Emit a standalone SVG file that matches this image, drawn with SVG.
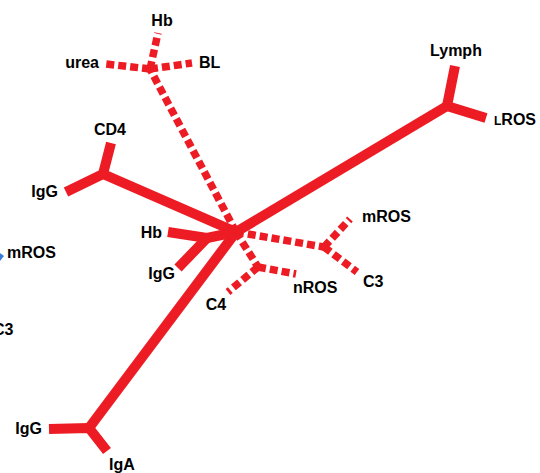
<svg xmlns="http://www.w3.org/2000/svg" width="540" height="473" viewBox="0 0 540 473">
<style>
.s{stroke:#ED1C24;stroke-width:10;fill:none;stroke-linecap:butt;stroke-linejoin:round}
.d{stroke:#ED1C24;stroke-width:7.5;fill:none;stroke-dasharray:8 4}
text{font-family:"Liberation Sans",Arial,sans-serif;font-weight:bold;font-size:16px;fill:#000}
.sm{font-size:12px}
</style>
<rect width="540" height="473" fill="#fff"/>
<g id="connectors">
<polyline class="s" points="236,232 447,106"/>
<polyline class="s" points="455,66 447,106 486,118"/>
<polyline class="s" points="236,232 103,174"/>
<polyline class="s" points="111,143 103,174 66,192"/>
<polyline class="s" points="236,232 89,428"/>
<polyline class="s" points="49,429 89,428 107,451"/>
<polyline class="s" points="236,232 207,238"/>
<polyline class="s" points="168,232 207,238 178,268"/>
<line class="d" x1="236" y1="232" x2="150" y2="69"/>
<line class="d" x1="150" y1="69" x2="158" y2="33"/>
<line class="d" x1="150" y1="69" x2="106" y2="64"/>
<line class="d" x1="150" y1="69" x2="192" y2="63"/>
<line class="d" x1="236" y1="232" x2="324" y2="247"/>
<line class="d" x1="324" y1="247" x2="350" y2="219"/>
<line class="d" x1="324" y1="247" x2="357" y2="272"/>
<line class="d" x1="236" y1="232" x2="258" y2="267"/>
<line class="d" x1="258" y1="267" x2="296" y2="274"/>
<line class="d" x1="258" y1="267" x2="228" y2="292"/>
<polygon points="0,253 4,256 0,261" fill="#3A7BD5"/>
</g>
<g id="n-hb-top"><text x="162" y="26" text-anchor="middle">Hb</text></g>
<g id="n-urea"><text x="99" y="68" text-anchor="end">urea</text></g>
<g id="n-bl"><text x="199" y="68">BL</text></g>
<g id="n-cd4"><text x="110" y="135" text-anchor="middle">CD4</text></g>
<g id="n-igg-left"><text x="58" y="197" text-anchor="end">IgG</text></g>
<g id="n-lymph"><text x="456" y="56" text-anchor="middle">Lymph</text></g>
<g id="n-lros"><text x="494" y="125"><tspan class="sm">L</tspan>ROS</text></g>
<g id="n-mros"><text x="362" y="222">mROS</text></g>
<g id="n-c3"><text x="363" y="287">C3</text></g>
<g id="n-nros"><text x="293" y="293">nROS</text></g>
<g id="n-hb"><text x="162" y="238" text-anchor="end">Hb</text></g>
<g id="n-igg-mid"><text x="175" y="279" text-anchor="end">IgG</text></g>
<g id="n-c4"><text x="216" y="310" text-anchor="middle">C4</text></g>
<g id="n-igg-bottom"><text x="42" y="434" text-anchor="end">IgG</text></g>
<g id="n-iga"><text x="122" y="470" text-anchor="middle">IgA</text></g>
<g id="n-mros-left"><text x="7" y="258">mROS</text></g>
<g id="n-c3-left"><text x="-7" y="335">C3</text></g>
</svg>
